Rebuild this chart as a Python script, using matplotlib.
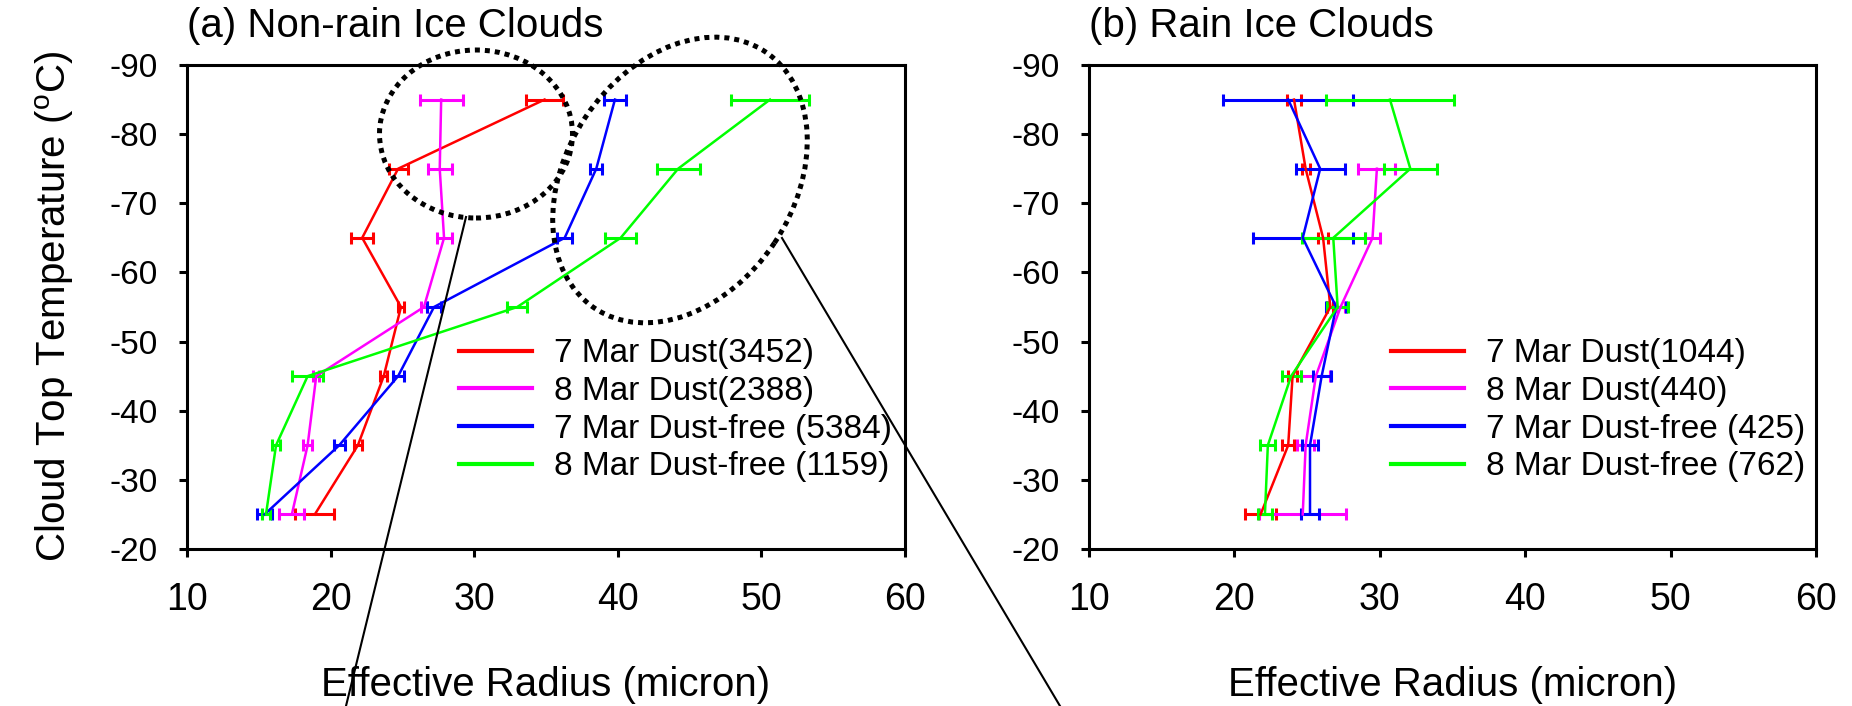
import numpy as np
import matplotlib
matplotlib.use("Agg")
import matplotlib.pyplot as plt
from matplotlib.patches import Ellipse
from matplotlib.lines import Line2D

plt.rcParams["font.family"] = ["Liberation Sans", "DejaVu Sans"]
plt.rcParams["axes.unicode_minus"] = False

temps = [-85, -75, -65, -55, -45, -35, -25]
nan = np.nan

# (a) non-rain ice clouds
a_red = [34.9, 24.7, 22.2, 24.9, 23.7, 21.9, 18.9]
a_red_err = [1.3, 0.66, 0.77, 0.2, 0.25, 0.3, 1.37]
a_mag = [27.7, 27.6, 27.9, 26.5, 19.0, 18.4, 17.3]
a_mag_err = [1.5, 0.84, 0.52, 0.2, 0.2, 0.3, 0.87]
a_blue = [39.8, 38.5, 36.3, 27.2, 24.7, 20.6, 15.4]
a_blue_err = [0.77, 0.42, 0.52, 0.5, 0.38, 0.38, 0.55]
a_green = [50.6, 44.2, 40.2, 33.0, 18.4, 16.2, 15.5]
a_green_err = [2.7, 1.5, 1.1, 0.7, 1.1, 0.28, 0.3]
a_labels = ["7 Mar Dust(3452)", "8 Mar Dust(2388)",
            "7 Mar Dust-free (5384)", "8 Mar Dust-free (1159)"]

# (b) rain ice clouds
b_red = [24.1, 24.9, 26.1, 26.6, 24.0, 23.7, 21.8]
b_red_err = [0.48, 0.28, 0.34, 0.2, 0.3, 0.41, 1.07]
b_mag = [nan, 29.8, 29.5, 27.3, 25.6, 24.9, 24.7]
b_mag_err = [nan, 1.27, 0.52, 0.3, 1.0, 0.6, 3.0]
b_blue = [23.7, 25.9, 24.7, 27.0, 26.0, 25.2, 25.2]
b_blue_err = [4.47, 1.68, 3.44, 0.7, 0.62, 0.52, 0.62]
b_green = [30.7, 32.1, 26.8, 27.1, 23.9, 22.3, 22.1]
b_green_err = [4.37, 1.82, 2.17, 0.7, 0.65, 0.52, 0.48]
b_labels = ["7 Mar Dust(1044)", "8 Mar Dust(440)",
            "7 Mar Dust-free (425)", "8 Mar Dust-free (762)"]

colors = ["#FF0000", "#FF00FF", "#0000FF", "#00FF00"]
xticks = [10, 20, 30, 40, 50, 60]
yticks = [-90, -80, -70, -60, -50, -40, -30, -20]

W, H = 1852, 706
fig = plt.figure(figsize=(W / 100, H / 100), dpi=100)
ax_a = fig.add_axes([187 / W, 1 - 549 / H, 718 / W, 484 / H])
ax_b = fig.add_axes([1089 / W, 1 - 549 / H, 727 / W, 484 / H])


def panel(ax, series, errs, labels, title, leg_x):
    for vals, err, c in zip(series, errs, colors):
        ax.errorbar(vals, temps, xerr=err, color=c, lw=1.8, elinewidth=2.2,
                    capsize=4.3, capthick=2.2)
    ax.set_xlim(10, 60)
    ax.set_ylim(-20, -90)
    ax.set_xticks(xticks)
    ax.set_yticks(yticks)
    ax.tick_params(axis="x", labelsize=27, direction="out", length=6, width=2.2, pad=18)
    ax.tick_params(axis="y", labelsize=24, direction="out", length=6, width=2.2, pad=15)
    for sp in ax.spines.values():
        sp.set_linewidth(2.2)
        sp.set_color("black")
    ax.set_xlabel("Effective Radius (micron)", fontsize=29, labelpad=34)
    ax.set_title(title, loc="left", fontsize=29, pad=20)
    handles = [Line2D([], [], color=c, lw=3) for c in colors]
    ax.legend(handles, labels, loc="upper left", bbox_to_anchor=(leg_x, 0.435),
              frameon=False, fontsize=24, handlelength=2.2, handletextpad=0.66,
              labelspacing=0.2, borderpad=0, borderaxespad=0)


panel(ax_a, [a_red, a_mag, a_blue, a_green],
      [a_red_err, a_mag_err, a_blue_err, a_green_err],
      a_labels, "(a) Non-rain Ice Clouds", 0.379)
panel(ax_b, [b_red, b_mag, b_blue, b_green],
      [b_red_err, b_mag_err, b_blue_err, b_green_err],
      b_labels, "(b) Rain Ice Clouds", 0.415)
ax_a.set_ylabel("Cloud Top Temperature ($\\mathregular{^o}$C)", fontsize=29, labelpad=24)

# overlay for the dotted call-out ellipses and leader lines (pixel coords, y up)
ov = fig.add_axes([0, 0, 1, 1], zorder=10)
ov.set_xlim(0, W)
ov.set_ylim(0, H)
ov.axis("off")
ov.patch.set_alpha(0)
dots = dict(fill=False, ec="black", lw=3.6, ls=(0, (1, 1)))
ov.add_patch(Ellipse((476, H - 134), 193, 168, angle=0, **dots))
ov.add_patch(Ellipse((680, H - 180), 308, 227, angle=56.4, **dots))
ov.plot([466, 346], [H - 217, 0], color="black", lw=1.5)
ov.plot([782, 1060], [H - 238, 0], color="black", lw=1.5)

fig.savefig("out.png", dpi=100)
